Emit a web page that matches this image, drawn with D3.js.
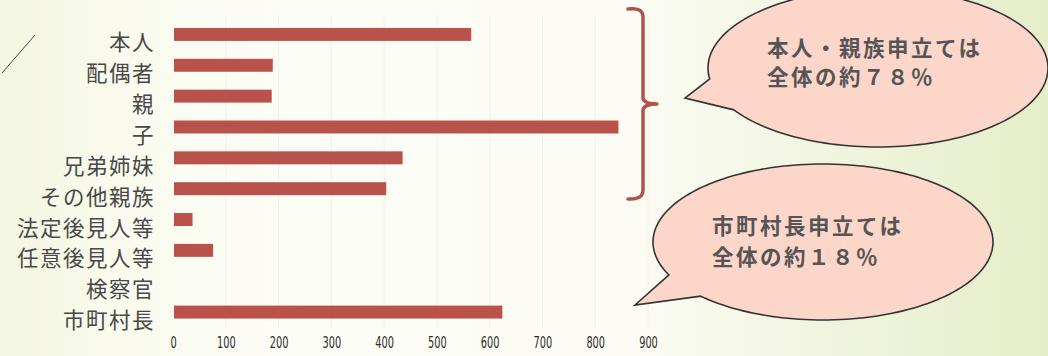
<!DOCTYPE html>
<html><head><meta charset="utf-8">
<script src="https://cdn.jsdelivr.net/npm/d3@7"></script>
<style>html,body{margin:0;padding:0;background:#fff;}svg{display:block;}</style>
</head><body>
<svg id="c" width="1048" height="356"></svg>
<script>
const categories = ["本人","配偶者","親","子","兄弟姉妹","その他親族","法定後見人等","任意後見人等","検察官","市町村長"];
const values = [565,189,187,844,435,404,37,76,0,624];
const tickValues = [0,100,200,300,400,500,600,700,800,900];
const note1 = ["本人・親族申立ては","全体の約７８％"];
const note2 = ["市町村長申立ては","全体の約１８％"];

const svg = d3.select("#c");
const defs = svg.append("defs");
const g = defs.append("linearGradient").attr("id","bg").attr("x1","0").attr("x2","1").attr("y1","0").attr("y2","0");
[[0,"#f3f6e0"],[0.12,"#fafbee"],[0.3,"#fdfdf8"],[0.6,"#fcfcf4"],[0.78,"#f1f5e0"],[1,"#e5eec9"]].forEach(s=>g.append("stop").attr("offset",s[0]).attr("stop-color",s[1]));
svg.append("rect").attr("width",1048).attr("height",356).attr("fill","url(#bg)");

const x = d3.scaleLinear().domain([0,900]).range([173,648]);
const y = d3.scaleBand().domain(categories).range([19,327.5]).paddingInner(0.58).paddingOuter(0.29);

// faint grid
svg.append("g").selectAll("line").data(tickValues.slice(1)).join("line")
  .attr("x1",d=>x(d)).attr("x2",d=>x(d)).attr("y1",15).attr("y2",328)
  .attr("stroke","#f1f1e9").attr("stroke-width",1);

// bars
svg.append("g").selectAll("rect").data(values).join("rect")
  .attr("x",x(0)+1).attr("y",(d,i)=>y(categories[i]))
  .attr("width",d=>Math.max(0,x(d)-x(0)-1)).attr("height",y.bandwidth())
  .attr("fill","#b8524b");

// category labels
svg.append("g").selectAll("text").data(categories).join("text")
  .attr("x",155).attr("y",d=>y(d)+y.bandwidth()/2+6.5)
  .attr("text-anchor","end").attr("dominant-baseline","central")
  .attr("font-family","'Noto Sans CJK JP'").attr("font-size",21.5).attr("letter-spacing",1.5)
  .attr("fill","#484848").text(d=>d);

// x axis
const ax = svg.append("g").attr("transform","translate(0,342)")
  .call(d3.axisBottom(x).tickValues(tickValues).tickSize(0).tickPadding(0).tickFormat(d3.format("d")));
ax.select(".domain").remove();
ax.selectAll(".tick text")
  .attr("font-family","'DejaVu Sans Condensed'").attr("font-size",16).attr("fill","#2a2a2a")
  .attr("y",0).attr("dy",0).attr("dominant-baseline","central")
  .attr("transform","scale(0.68,1)");

// diagonal stroke top-left
svg.append("line").attr("x1",2).attr("y1",73).attr("x2",35).attr("y2",35).attr("stroke","#444").attr("stroke-width",1);

// bracket
svg.append("path")
  .attr("d","M628,9 Q643,7 643,17 L643,98 Q644,104 657,104 Q644,104 643,110 L643,190 Q643,200 628,199")
  .attr("fill","none").attr("stroke","#b5514a").attr("stroke-width",3.5).attr("stroke-linecap","round").attr("stroke-linejoin","round");

// bubbles
function bubble(cx,cy,rx,ry,aDeg,bDeg,tip){
  const pts=[];
  for(let t=bDeg;t>=aDeg-360;t-=2){const r=t*Math.PI/180;pts.push([cx+rx*Math.cos(r),cy+ry*Math.sin(r)]);}
  const r=aDeg*Math.PI/180; pts.push([cx+rx*Math.cos(r),cy+ry*Math.sin(r)]);
  pts.push(tip);
  return d3.line()(pts)+"Z";
}
svg.append("path").attr("d",bubble(878,68,170,79,172,148,[685,98]))
  .attr("fill","#fdd6ca").attr("stroke","#333").attr("stroke-width",1.6).attr("stroke-linejoin","miter");
svg.append("path").attr("d",bubble(823,242,170,78,155,136,[635,305]))
  .attr("fill","#fdd6ca").attr("stroke","#333").attr("stroke-width",1.6).attr("stroke-linejoin","miter");

function noteText(lines,x0,ys){
  svg.append("g").selectAll("text").data(lines).join("text")
    .attr("x",x0).attr("y",(d,i)=>ys[i]).attr("dominant-baseline","central")
    .attr("font-family","'Noto Sans CJK JP'").attr("font-weight","bold").attr("font-size",21.5).attr("letter-spacing",2.5)
    .attr("fill","#555").text(d=>d);
}
noteText(note1,767,[46,75]);
noteText(note2,712,[224,255]);
</script>
</body></html>
